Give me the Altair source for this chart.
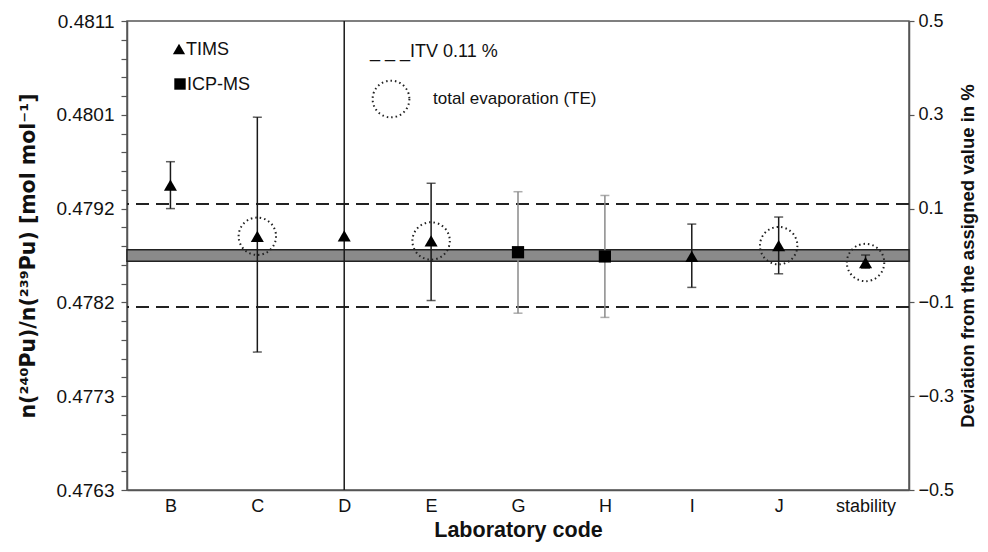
import altair as alt
import pandas as pd

# ---- data (deviation from assigned value, in %) ----
labs = ["B", "C", "D", "E", "G", "H", "I", "J", "stability"]
method = ["TIMS", "TIMS", "TIMS", "TIMS", "ICP-MS", "ICP-MS", "TIMS", "TIMS", "TIMS"]
dev = [0.150, 0.041, 0.042, 0.031, 0.007, -0.002, -0.002, 0.021, -0.015]
unc_hi = [0.200, 0.295, 0.900, 0.154, 0.136, 0.128, 0.067, 0.082, 0.001]
unc_lo = [0.100, -0.206, -0.900, -0.096, -0.123, -0.132, -0.068, -0.039, -0.027]
total_evap = [False, True, False, True, False, False, False, True, True]
assigned = 0.4787          # assigned n(240Pu)/n(239Pu)
itv = 0.11                 # ITV in %
band_half = 0.012          # uncertainty of assigned value, %
major_ticks = [-0.5, -0.3, -0.1, 0.1, 0.3, 0.5]
minor_ticks = [round(-0.5 + 0.04 * i, 2) for i in range(26)]

df = pd.DataFrame({"lab": labs, "method": method, "dev": dev,
                   "hi": unc_hi, "lo": unc_lo, "te": total_evap})
band_df = pd.DataFrame({"lo": [-band_half], "hi": [band_half]})
itv_df = pd.DataFrame({"v": [itv, -itv]})

W, H = 782, 469
FONT = "Liberation Sans"
AX = "#555555"
yscale = alt.Scale(domain=[-0.5, 0.5], nice=False, zero=False)


def Y(field, axis=None):
    return alt.Y(field, type="quantitative", scale=yscale, axis=axis)


xenc = alt.X("lab:N", sort=labs, scale=alt.Scale(type="point", padding=0.5),
             axis=alt.Axis(title="Laboratory code", ticks=False, labelAngle=0,
                           labelFontSize=18, labelPadding=7, labelColor="#111",
                           titleFontSize=21.5, titleFontWeight="bold", titlePadding=4,
                           domainColor=AX, domainWidth=1.5, grid=False))

major_js = "[" + ",".join(str(v) for v in major_ticks) + "]"
left_axis = alt.Axis(orient="left", values=minor_ticks,
                     labelExpr=f"indexof({major_js}, datum.value) >= 0 ? format({assigned}*(1+datum.value/100), '.4f') : ''",
                     labelOverlap=False,
                     tickSize=6, tickColor=AX, tickWidth=1.2, domainColor=AX, domainWidth=1.5,
                     labelFontSize=19, labelPadding=7, labelColor="#111", grid=False,
                     title="n(²⁴⁰Pu)/n(²³⁹Pu) [mol mol⁻¹]", titleFont="DejaVu Sans",
                     titleFontSize=20.5,
                     titleFontWeight="bold", titleX=-99, titleY=H / 2, titleAngle=270,
                     titleAlign="center", titleBaseline="middle")
right_axis = alt.Axis(orient="right", values=major_ticks, format=".1f",
                      tickSize=5, tickColor=AX, tickWidth=1.2, domainColor=AX, domainWidth=1.5,
                      labelFontSize=18, labelPadding=4, labelColor="#111", grid=False,
                      title="Deviation from the assigned value in %", titleFontSize=18.5,
                      titleFontWeight="bold", titleX=58, titleY=H / 2, titleAngle=270,
                      titleAlign="center", titleBaseline="middle")

band = alt.Chart(band_df).mark_rect(fill="#8a8a8a", stroke="#222", strokeWidth=1.5).encode(
    y=Y("lo:Q", left_axis), y2="hi:Q", x=alt.value(0), x2=alt.value(W))

itv_lines = alt.Chart(itv_df).mark_rule(color="#222", strokeWidth=2, strokeDash=[13, 7]).encode(
    y=Y("v:Q"))

col = alt.Color("method:N", scale=alt.Scale(domain=["TIMS", "ICP-MS"], range=["#1a1a1a", "#8a8a8a"]),
                legend=None)

bars = alt.Chart(df).mark_rule(strokeWidth=1.5, clip=True).encode(
    x=xenc, y=Y("lo:Q"), y2="hi:Q", color=col)
cap_hi = alt.Chart(df).mark_tick(size=9, thickness=1.5, clip=True).encode(
    x=xenc, y=Y("hi:Q"), color=col)
cap_lo = alt.Chart(df).mark_tick(size=9, thickness=1.5, clip=True).encode(
    x=xenc, y=Y("lo:Q"), color=col)

tri = alt.Chart(df).transform_filter("datum.method == 'TIMS'").mark_point(
    shape="triangle-up", filled=True, size=170, color="#000", opacity=1).encode(
    x=xenc, y=Y("dev:Q", right_axis))
sq = alt.Chart(df).transform_filter("datum.method == 'ICP-MS'").mark_point(
    shape="square", filled=True, size=150, color="#000", opacity=1).encode(
    x=xenc, y=Y("dev:Q"))
te = alt.Chart(df).transform_filter("datum.te").mark_point(
    shape="circle", filled=False, size=1400, stroke="#222", strokeWidth=2,
    strokeDash=[1.5, 3], opacity=1).encode(x=xenc, y=Y("dev:Q"))

one = alt.Data(values=[{}])
leg = [
    alt.Chart(one).mark_point(shape="triangle-up", filled=True, size=150, color="#000", opacity=1)
    .encode(x=alt.value(52), y=alt.value(28)),
    alt.Chart(one).mark_text(align="left", baseline="middle", fontSize=18, font=FONT, color="#111")
    .encode(x=alt.value(59), y=alt.value(29), text=alt.value("TIMS")),
    alt.Chart(one).mark_point(shape="square", filled=True, size=130, color="#000", opacity=1)
    .encode(x=alt.value(53), y=alt.value(63)),
    alt.Chart(one).mark_text(align="left", baseline="middle", fontSize=18, font=FONT, color="#111")
    .encode(x=alt.value(60), y=alt.value(64), text=alt.value("ICP-MS")),
    alt.Chart(one).mark_text(align="left", baseline="middle", fontSize=18, font=FONT, color="#111")
    .encode(x=alt.value(243), y=alt.value(31), text=alt.value("_ _ _ITV 0.11 %")),
    alt.Chart(one).mark_point(shape="circle", filled=False, size=1350, stroke="#222", strokeWidth=2,
                              strokeDash=[1.5, 3], opacity=1)
    .encode(x=alt.value(264), y=alt.value(78)),
    alt.Chart(one).mark_text(align="left", baseline="middle", fontSize=17, font=FONT, color="#111")
    .encode(x=alt.value(306), y=alt.value(78), text=alt.value("total evaporation (TE)")),
]

chart = alt.layer(band, itv_lines, bars, cap_hi, cap_lo, te, tri, sq, *leg).resolve_scale(
    y="shared", x="shared").resolve_axis(y="independent").properties(
    width=W, height=H, autosize=alt.AutoSizeParams(type="none"),
    padding={"left": 119, "top": 13, "right": 71, "bottom": 54}
).configure(font=FONT).configure_view(stroke=AX, strokeWidth=1.5).configure_axis(
    labelFont=FONT, titleFont=FONT, titleColor="#111")

chart.save("out.html", embed_options={"renderer": "svg", "actions": False})
